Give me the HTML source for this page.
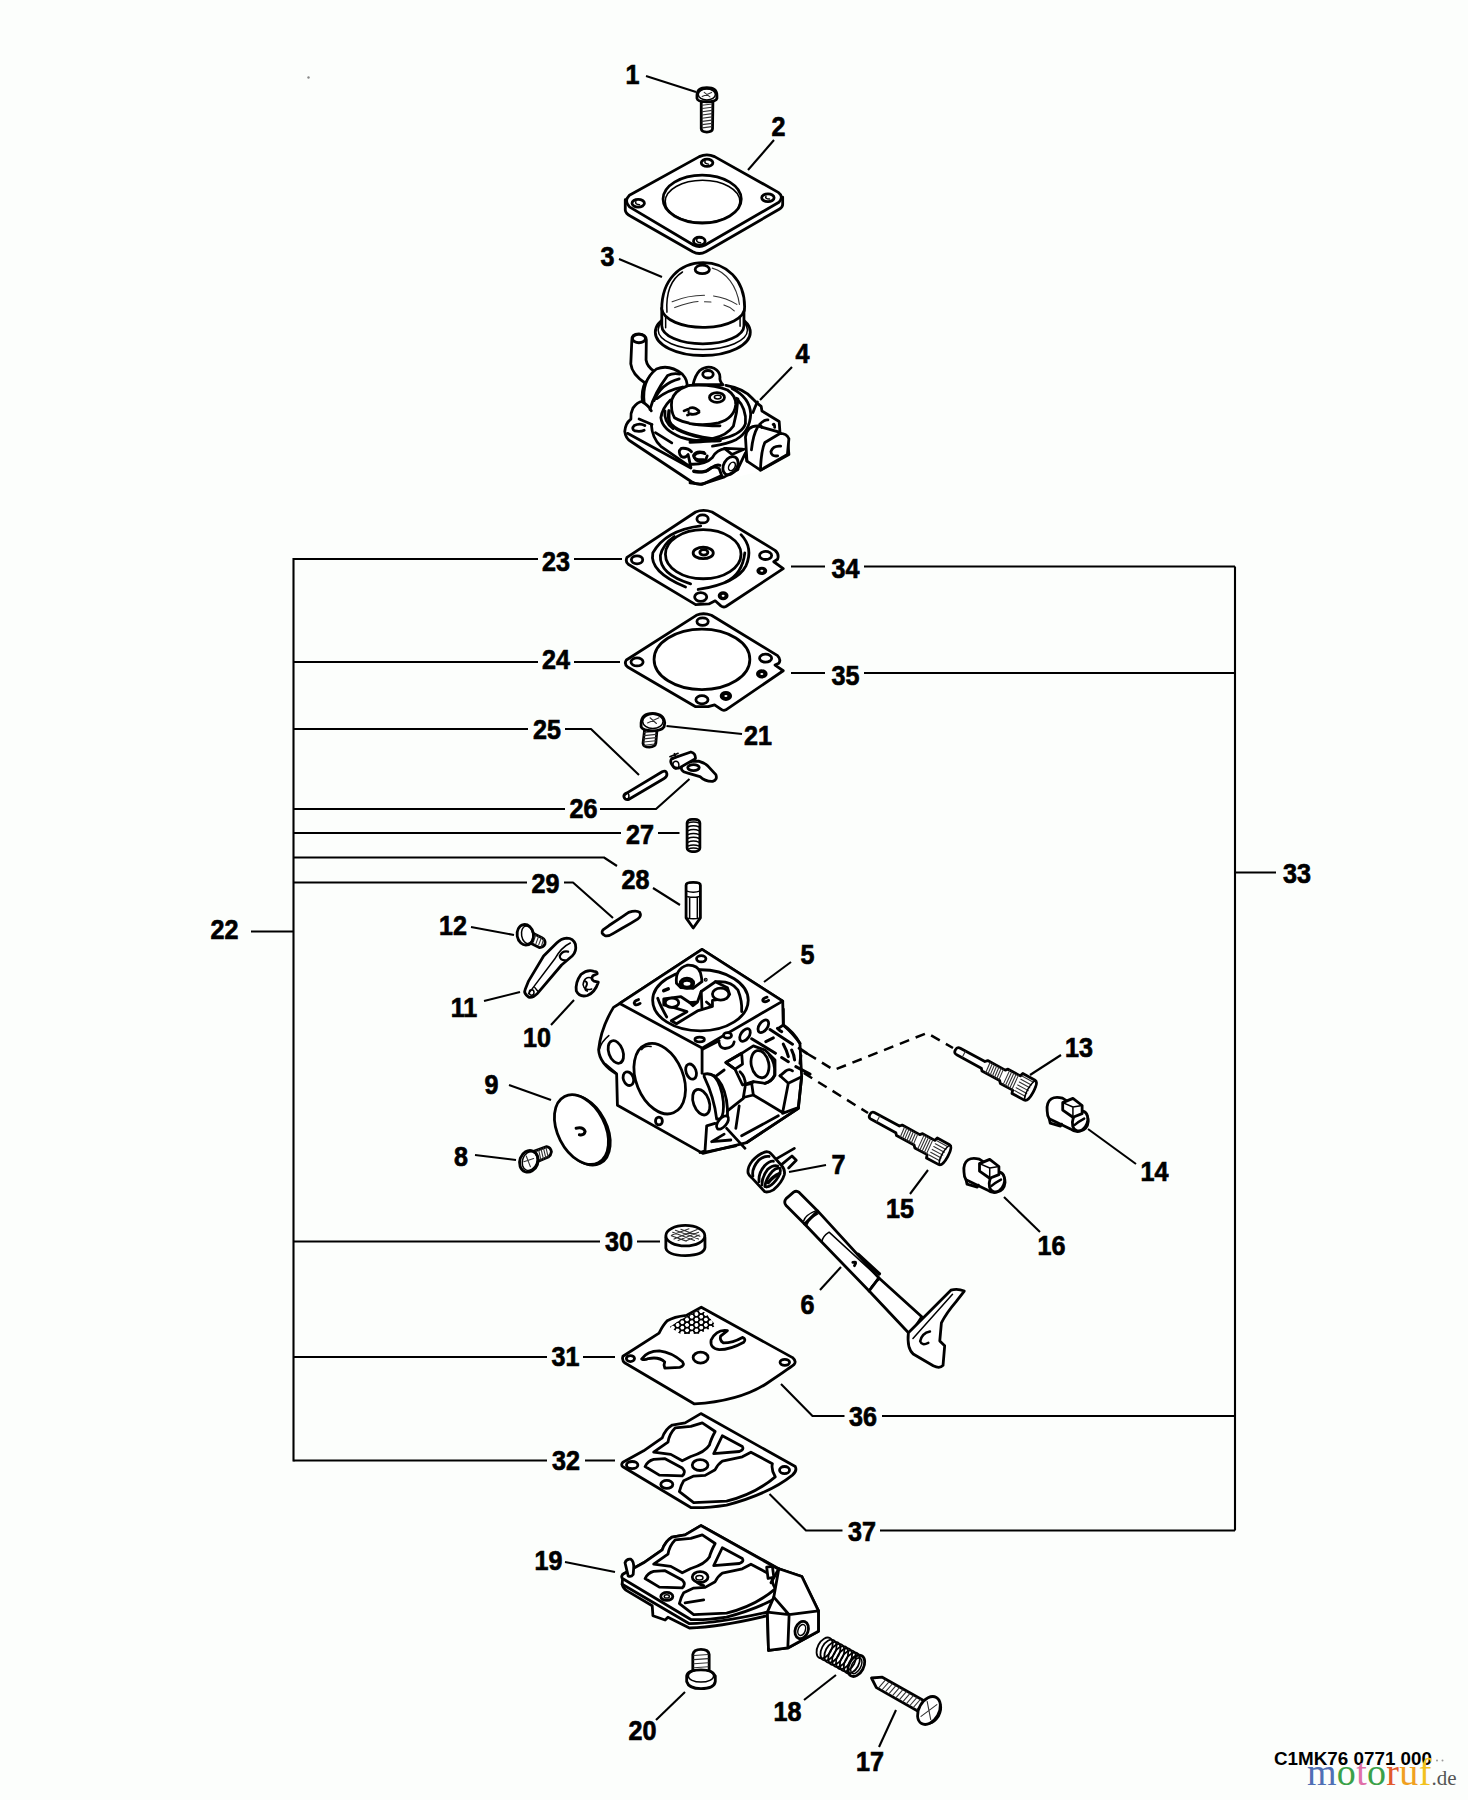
<!DOCTYPE html>
<html><head><meta charset="utf-8"><style>
html,body{margin:0;padding:0;background:#fcfefc;width:1468px;height:1800px;overflow:hidden}
svg{position:absolute;left:0;top:0}
.pt *{vector-effect:non-scaling-stroke}
</style></head><body>
<svg width="1468" height="1800" viewBox="0 0 1468 1800">
<g font-family="Liberation Sans, sans-serif" font-weight="bold" font-size="27" text-anchor="middle" fill="#000" stroke="#000" stroke-width="0.7">
<text transform="translate(632.5 84.0) scale(0.93 1)">1</text>
<text transform="translate(778.5 136.0) scale(0.93 1)">2</text>
<text transform="translate(607.5 266.0) scale(0.93 1)">3</text>
<text transform="translate(802.5 363.0) scale(0.93 1)">4</text>
<text transform="translate(556.0 571.0) scale(0.93 1)">23</text>
<text transform="translate(845.5 578.0) scale(0.93 1)">34</text>
<text transform="translate(556.0 669.0) scale(0.93 1)">24</text>
<text transform="translate(845.5 685.0) scale(0.93 1)">35</text>
<text transform="translate(758.0 745.0) scale(0.93 1)">21</text>
<text transform="translate(547.0 739.0) scale(0.93 1)">25</text>
<text transform="translate(583.5 818.0) scale(0.93 1)">26</text>
<text transform="translate(640.0 844.0) scale(0.93 1)">27</text>
<text transform="translate(635.5 889.0) scale(0.93 1)">28</text>
<text transform="translate(545.5 893.0) scale(0.93 1)">29</text>
<text transform="translate(1297.0 883.0) scale(0.93 1)">33</text>
<text transform="translate(807.5 964.0) scale(0.93 1)">5</text>
<text transform="translate(1079.0 1057.0) scale(0.93 1)">13</text>
<text transform="translate(1154.5 1181.0) scale(0.93 1)">14</text>
<text transform="translate(900.0 1218.0) scale(0.93 1)">15</text>
<text transform="translate(1051.5 1255.0) scale(0.93 1)">16</text>
<text transform="translate(838.5 1174.0) scale(0.93 1)">7</text>
<text transform="translate(807.5 1314.0) scale(0.93 1)">6</text>
<text transform="translate(619.0 1251.0) scale(0.93 1)">30</text>
<text transform="translate(565.5 1366.0) scale(0.93 1)">31</text>
<text transform="translate(566.0 1470.0) scale(0.93 1)">32</text>
<text transform="translate(863.0 1426.0) scale(0.93 1)">36</text>
<text transform="translate(862.0 1541.0) scale(0.93 1)">37</text>
<text transform="translate(548.5 1570.0) scale(0.93 1)">19</text>
<text transform="translate(642.5 1740.0) scale(0.93 1)">20</text>
<text transform="translate(787.5 1721.0) scale(0.93 1)">18</text>
<text transform="translate(870.0 1771.0) scale(0.93 1)">17</text>
<text transform="translate(453.0 935.0) scale(0.93 1)">12</text>
<text transform="translate(464.0 1017.0) scale(0.93 1)">11</text>
<text transform="translate(537.0 1047.0) scale(0.93 1)">10</text>
<text transform="translate(491.5 1094.0) scale(0.93 1)">9</text>
<text transform="translate(461.0 1166.0) scale(0.93 1)">8</text>
<text transform="translate(224.5 939.0) scale(0.93 1)">22</text>
</g>
<g fill="none" stroke="#000" stroke-width="2.1" stroke-linejoin="round" stroke-linecap="butt">
<!-- left bracket -->
<path d="M293.5 558 V1461.5"/>
<path d="M293.5 559 H538 M574 559 H622"/>
<path d="M293.5 662 H538 M574 662 H620"/>
<path d="M293.5 729 H528 M565 729 H591 L639 775"/>
<path d="M293.5 809 H565 M600 809 H656 L689.5 779"/>
<path d="M293.5 833 H621 M658 833 H679.5"/>
<path d="M293.5 857.5 H604 L617 866 M653 888 L680 905"/>
<path d="M293.5 882.5 H527 M564 882.5 H573 L613 918"/>
<path d="M251 931.5 H293.5"/>
<path d="M293.5 1241.5 H600 M637 1241.5 H660"/>
<path d="M293.5 1357 H547 M583 1357 H615"/>
<path d="M293.5 1460.5 H547 M585 1460.5 H615"/>
<!-- right bracket -->
<path d="M1235 566.5 V1530.5"/>
<path d="M791 566.5 H825 M864 566.5 H1235"/>
<path d="M791 673 H825 M864 673 H1235"/>
<path d="M1235 872.5 H1276"/>
<path d="M781 1384 L812.5 1416 H844.5 M882 1416 H1235"/>
<path d="M769.5 1494 L806 1530.5 H842.5 M880 1530.5 H1235"/>
<!-- leaders -->
<path d="M646 76 L696 92"/>
<path d="M774 140 L748 170"/>
<path d="M619 259 L662 277"/>
<path d="M792 367 L760 400"/>
<path d="M791 962 L764 982"/>
<path d="M1061 1055 L1030 1075"/>
<path d="M1088 1129 L1136 1164"/>
<path d="M928 1170 L910 1194"/>
<path d="M1004 1197 L1040 1232"/>
<path d="M789 1172 L826 1165"/>
<path d="M820 1290 L841 1267"/>
<path d="M565 1562 L615 1572"/>
<path d="M656 1720 L685 1692"/>
<path d="M804 1700 L836 1675"/>
<path d="M879 1747 L896 1710"/>
<path d="M471 927 L514 935"/>
<path d="M484 1001 L520 992"/>
<path d="M551 1025 L574 1000"/>
<path d="M509 1085 L551 1100"/>
<path d="M475 1155 L516 1160"/>
<path d="M666.5 726 L742 734"/>
<path d="M764 1027 L834 1070 L927 1033 L953 1048" stroke-dasharray="10 7" stroke-width="2.5"/>
<path d="M746 1037 L868 1113" stroke-dasharray="10 7" stroke-width="2.5"/>

</g>
<g class="pt" fill="#fff" stroke="#000" stroke-width="2.8" stroke-linejoin="round" stroke-linecap="round">
<g transform="translate(610 80) scale(0.129433)">

<path d="M705 165 L705 378 Q708 402 748 402 Q790 402 792 378 L795 165 Z"/>
<path stroke="#333" stroke-width="1.1" fill="none" d="M712 195 L788 185 M712 220 L788 210 M712 245 L788 235 M712 270 L788 260 M712 295 L788 285 M712 320 L788 310 M712 345 L788 335 M714 370 L786 360"/>
<path d="M672 120 Q672 60 748 60 Q826 60 826 120 L826 142 Q820 168 748 168 Q676 168 672 142 Z"/>
<ellipse stroke-width="1.5" fill="none" cx="748" cy="112" rx="66" ry="42"/>
<path stroke="#333" stroke-width="1.1" fill="none" d="M712 128 L785 96 M728 96 L772 130"/>
<path d="M118 925 L118 1005 Q120 1032 160 1052 L640 1327 Q690 1354 740 1327 L1310 997 Q1336 982 1334 957 L1334 905"/>
<path d="M150 890 L690 592 Q748 565 808 592 L1300 868 Q1345 900 1305 945 L735 1275 Q690 1300 645 1275 L150 980 Q105 935 150 890 Z"/>
<ellipse cx="712" cy="920" rx="302" ry="185"/>
<ellipse stroke-width="1.5" fill="none" cx="715" cy="938" rx="288" ry="163"/>
<ellipse cx="750" cy="640" rx="45" ry="28"/><path stroke-width="1.5" fill="none" d="M735 625 Q725 645 760 650"/>
<ellipse cx="218" cy="952" rx="48" ry="30"/><path stroke-width="1.5" fill="none" d="M200 940 Q190 960 228 963"/>
<ellipse cx="1220" cy="910" rx="48" ry="30"/><path stroke-width="1.5" fill="none" d="M1205 898 Q1195 918 1232 920"/>
<ellipse cx="690" cy="1245" rx="45" ry="30"/><path stroke-width="1.5" fill="none" d="M672 1230 Q660 1252 700 1258"/>

</g>
<g transform="translate(610 250) scale(0.129433)">

<ellipse cx="717" cy="635" rx="367" ry="180"/>
<ellipse stroke-width="1.5" fill="none" cx="717" cy="618" rx="345" ry="150"/>
<path d="M400 450 L400 585 A317 140 0 0 0 1035 585 L1035 450 Z"/>
<path stroke-width="1.5" fill="none" d="M430 520 L430 600 M1005 500 L1005 590"/>
<path d="M400 455 C400 230 540 98 720 98 C900 98 1040 230 1040 440 A320 150 0 0 1 400 455 Z"/>
<path stroke-width="1.5" fill="none" d="M440 480 C430 320 480 220 560 170"/>
<path stroke="#333" stroke-width="1.1" fill="none" d="M790 140 C900 170 980 280 1000 420 M480 400 Q600 350 730 350 M500 445 Q620 400 680 398 M730 400 L780 402 M800 355 Q900 370 980 420 M880 425 Q930 440 960 470"/>
<ellipse cx="713" cy="150" rx="55" ry="33"/>

</g>
<g transform="translate(615 325) scale(0.129433)">

<path stroke="none" d="M85 790 Q70 860 105 905 L640 1225 Q690 1248 745 1222 L1080 1140 L1330 1010 L1340 880 L1270 760 L1120 620 L1000 540 L760 450 L450 470 L280 600 L180 640 Q120 680 110 720 Z"/>
<path d="M130 120 Q125 70 185 68 Q240 72 242 115 L240 270 Q248 320 300 355 L235 450 Q130 380 122 300 Z"/>
<ellipse cx="185" cy="105" rx="50" ry="32"/>
<path stroke="none" d="M225 600 Q205 430 320 340 Q420 300 520 380 Q565 430 555 480 L450 600 Z"/>
<path fill="none" d="M225 600 Q205 430 320 340 Q420 300 520 380 Q565 430 555 480"/>

</g>
<g transform="translate(690 360) scale(0.074934)">
<path stroke="none" d="M480 340 Q720 380 840 520 L900 580 L950 620 L960 680 L1190 820 L1200 960 L1300 1050 L1320 1260 L940 1470 L760 1350 L640 1460 L0 1600 L0 340 Z"/>

</g>
<g transform="translate(620 370) scale(0.068120)">

<path stroke="none" d="M330 460 Q250 470 190 560 Q150 640 160 720 Q80 780 70 900 Q80 1000 160 1050 L1050 1640 Q1150 1700 1250 1660 L1468 1560 L1468 1100 L600 1000 Z"/>
<path fill="none" d="M330 460 Q250 470 190 560 Q150 640 160 720 Q80 780 70 900 Q80 1000 160 1050 L1050 1640 Q1150 1700 1250 1660 L1468 1560"/>
<path fill="none" d="M110 930 L1040 1440 M280 720 L470 800"/>
<path fill="none" d="M365 815 Q290 775 210 815 Q160 865 220 895 Q300 912 355 885"/>
<path fill="none" d="M370 180 Q310 300 330 470 Q420 520 460 600"/>
<path fill="none" d="M440 580 Q500 350 700 80 Q780 40 880 60"/>
<path fill="none" d="M500 450 Q600 200 870 130"/>
<path fill="none" d="M540 420 Q700 290 920 250"/>
<path fill="none" d="M460 800 Q470 1000 600 1120 L1000 1400"/>
<path fill="none" d="M520 920 L760 1070"/>
<path fill="none" d="M740 440 Q620 560 600 700 Q620 880 900 990 Q1100 1060 1468 1040"/>
<path fill="none" d="M660 600 Q640 760 780 860"/>
<path fill="none" stroke-width="3.5" d="M720 600 Q700 750 750 800 Q900 960 1468 1030"/>
<path stroke="none" d="M1000 230 Q800 300 760 440 Q740 600 800 700 Q1000 820 1468 820 L1468 230 Z"/>
<path fill="none" d="M1468 220 Q1100 220 1000 230 Q800 300 760 440 Q740 600 800 700 Q1000 820 1468 820"/>
<path fill="none" d="M940 600 Q1050 540 1160 600 M990 660 Q1050 640 1110 660 M1010 620 L1080 610"/>
<path fill="none" d="M1050 1200 Q1000 1140 900 1150 Q840 1200 900 1270 Q960 1300 1000 1240 L1040 1430"/>
<path fill="none" d="M1230 1210 Q1120 1180 1080 1250 Q1090 1340 1200 1350 Q1260 1340 1280 1260"/>
<path fill="none" d="M1080 1490 Q1250 1520 1350 1430 Q1420 1380 1468 1400"/>

</g>
<g transform="translate(690 360) scale(0.074934)">

<path fill="none" d="M480 340 Q720 380 840 520 L900 580 L950 620 L960 680 L1190 820 L1200 960"/>
<path d="M40 330 Q70 200 130 140 Q220 70 320 110 Q400 150 400 230 Q390 280 440 330 Z"/>
<ellipse cx="240" cy="190" rx="70" ry="50"/>
<path fill="none" d="M620 510 Q760 650 740 850 Q700 980 470 1040 Q300 1090 0 1100"/>
<path fill="none" d="M560 380 Q800 500 810 720 Q800 950 620 1060 Q500 1120 300 1150"/>
<path fill="none" d="M640 520 Q630 700 580 880 Q500 1000 300 1050 Q150 1080 0 1080"/>
<path stroke="none" d="M-5 340 Q300 320 500 400 Q620 480 610 600 Q590 780 380 840 Q200 880 -5 850 Z"/>
<path fill="none" d="M0 340 Q300 320 500 400 Q620 480 610 600 Q590 780 380 840 Q200 880 0 850"/>
<ellipse cx="360" cy="500" rx="100" ry="65"/><ellipse stroke-width="1.5" fill="none" cx="370" cy="495" rx="45" ry="25" fill="#000"/>
<path fill="none" d="M120 680 Q60 620 0 640 M120 700 Q60 740 0 720"/>
<path fill="none" d="M840 700 Q880 600 900 560"/>
<path d="M740 1030 Q760 880 900 880 L1180 960 L1300 1050 L1320 1260 L940 1470 L760 1350 Z"/>
<path d="M940 1470 L1300 1260 L1320 1050 Q1290 980 1200 980 L1000 1100 Q950 1200 940 1470 Z"/>
<path fill="none" d="M1210 1150 Q1110 1140 1080 1220 Q1080 1290 1170 1280"/>
<path fill="none" d="M820 1200 Q840 1000 900 900"/>
<path fill="none" d="M930 860 Q990 790 1040 800 M1110 860 Q1130 850 1130 900 M930 860 L960 900"/>
<path fill="none" d="M200 1250 Q100 1210 50 1280 Q60 1340 180 1330"/>
<path fill="none" d="M0 1390 Q200 1400 300 1300 Q350 1200 480 1180 L700 1190"/>
<path fill="none" d="M460 1180 L560 1260 L720 1190"/>
<ellipse cx="540" cy="1410" rx="90" ry="130" transform="rotate(30 540 1410)"/>
<ellipse stroke-width="1.5" fill="none" cx="560" cy="1420" rx="40" ry="60" transform="rotate(30 560 1420)"/>
<path fill="none" d="M50 1480 Q200 1520 250 1460 Q320 1400 390 1450 L430 1560 M640 1450 L740 1240 L760 1350"/>
<path fill="none" d="M0 1640 L150 1660 L460 1560 L640 1460"/>

</g>
<g transform="translate(615 500) scale(0.126024)">

<path d="M95 455 L640 95 Q700 70 770 95 L1270 400 Q1305 430 1290 470 L1260 490 L1335 545 L880 845 Q860 855 840 840 L795 800 L745 825 L640 830 L105 510 Q80 490 95 455 Z"/>
<ellipse cx="695" cy="150" rx="45" ry="32"/>
<ellipse cx="175" cy="475" rx="45" ry="32"/>
<ellipse cx="1195" cy="440" rx="48" ry="32"/>
<ellipse cx="1165" cy="562" rx="32" ry="22" fill="#000"/><ellipse cx="1165" cy="562" rx="12" ry="8" fill="#fff" stroke="none"/>
<ellipse cx="680" cy="770" rx="48" ry="35"/>
<ellipse cx="858" cy="760" rx="32" ry="25" fill="#000"/><ellipse cx="858" cy="760" rx="12" ry="9" fill="#fff" stroke="none"/>
<path fill="none" d="M680 205 Q400 240 300 420 Q270 570 560 690"/>
<path fill="none" d="M600 665 Q350 590 360 440 Q380 350 470 290"/>
<path fill="none" d="M1000 275 Q1100 380 1040 520 Q970 660 660 710"/>
<path fill="none" d="M880 650 Q1010 590 1030 420"/>
<ellipse cx="700" cy="430" rx="300" ry="195"/>
<ellipse cx="700" cy="420" rx="80" ry="45"/>
<ellipse cx="705" cy="415" rx="32" ry="22"/>
<path d="M90 1270 L645 915 Q700 890 765 915 L1290 1235 Q1320 1265 1300 1295 L1270 1310 L1335 1355 L880 1665 Q860 1675 840 1660 L790 1625 L740 1640 L640 1640 L100 1325 Q70 1300 90 1270 Z"/>
<ellipse cx="695" cy="965" rx="45" ry="30"/>
<ellipse cx="175" cy="1285" rx="48" ry="32"/>
<ellipse cx="1195" cy="1255" rx="48" ry="32"/>
<ellipse cx="1165" cy="1380" rx="35" ry="25" fill="#000"/><ellipse cx="1165" cy="1380" rx="12" ry="8" fill="#fff" stroke="none"/>
<ellipse cx="690" cy="1585" rx="48" ry="32"/>
<ellipse cx="880" cy="1555" rx="38" ry="28" fill="#000"/><ellipse cx="880" cy="1555" rx="12" ry="8" fill="#fff" stroke="none"/>
<ellipse cx="690" cy="1265" rx="380" ry="240"/>

</g>
<g transform="translate(590 705) scale(0.127763)">

<path d="M428 190 L415 300 Q418 330 465 330 Q510 328 515 300 L525 185 Z"/>
<path stroke="#333" stroke-width="1.1" fill="none" d="M425 215 L520 205 M423 240 L518 230 M421 265 L516 255 M419 290 L514 280 M425 315 L508 305"/>
<path d="M400 140 Q405 65 490 65 Q580 70 585 140 L580 170 Q560 202 490 202 Q410 200 400 170 Z"/>
<ellipse stroke-width="1.5" fill="none" cx="492" cy="128" rx="80" ry="55"/>
<path stroke="#333" stroke-width="1.1" fill="none" d="M450 140 L540 100 M470 100 L520 145"/>
<path d="M290 688 L565 522 Q598 508 602 540 Q604 562 580 575 L305 738 Q272 748 265 718 Q262 700 290 688 Z"/>
<ellipse stroke-width="1.5" fill="none" cx="287" cy="712" rx="18" ry="24"/>
<path d="M720 470 Q760 440 850 440 Q900 455 925 480 L985 545 Q1000 585 960 598 Q900 600 860 560 L760 532 Q700 520 720 470 Z"/>
<ellipse cx="810" cy="490" rx="45" ry="24"/>
<path d="M640 420 L790 368 Q828 378 825 420 L700 492 Q660 502 645 472 Q622 442 640 420 Z"/>
<ellipse stroke-width="1.5" fill="none" cx="672" cy="470" rx="24" ry="30"/>
<path stroke-width="1.5" fill="none" d="M625 405 L690 378 M645 425 L700 398 M660 380 L675 410"/>
<rect x="760" y="895" width="100" height="252" rx="38" ry="28"/>
<path stroke-width="1.5" fill="none" d="M765 925 Q810 905 855 925 M765 955 Q810 935 855 955 M765 985 Q810 965 855 985 M765 1015 Q810 995 855 1015 M765 1045 Q810 1025 855 1045 M765 1075 Q810 1055 855 1075 M765 1105 Q810 1085 855 1105 M765 1130 Q810 1110 855 1130"/>
<path d="M752 1410 Q752 1388 808 1388 Q864 1388 864 1410 L864 1666 L808 1745 L752 1666 Z"/>
<path stroke-width="1.5" fill="none" d="M752 1455 Q808 1475 864 1455 M765 1500 Q808 1510 851 1500 M780 1510 L780 1666 M840 1510 L840 1666 M752 1666 Q808 1680 864 1666"/>

</g>
<g transform="translate(500 895) scale(0.108992)">

<path d="M945 320 Q920 352 962 372 Q995 382 1040 352 L1120 305 Q1200 262 1262 222 Q1302 192 1282 160 Q1250 135 1180 160 L1120 200 Q1060 240 1000 280 Z"/>
<path d="M262 330 L385 392 Q422 412 412 452 Q398 484 360 482 L240 422 Z"/>
<path stroke="#333" stroke-width="1.1" fill="none" d="M280 340 L255 410 M305 352 L280 422 M330 364 L305 434 M355 376 L330 446 M380 390 L355 458 M400 405 L380 470"/>
<ellipse cx="232" cy="365" rx="75" ry="95" transform="rotate(-10 232 365)"/>
<ellipse stroke-width="1.5" fill="none" cx="250" cy="365" rx="52" ry="82" transform="rotate(-10 250 365)"/>
<path d="M230 870 Q215 905 265 938 Q300 948 342 905 L565 642 L662 560 Q705 520 692 452 Q672 395 612 395 Q560 400 520 440 L400 560 L262 790 Z"/>
<path stroke-width="1.5" fill="none" d="M262 905 L500 590 Q560 480 645 440 M320 850 L345 880"/>
<path d="M625 520 Q572 508 548 560 Q550 602 602 600" stroke-width="2.2" fill="none"/>
<ellipse stroke-width="1.5" fill="none" cx="290" cy="895" rx="22" ry="25"/>
<path d="M862 700 Q800 680 742 730 Q690 800 700 880 Q730 942 802 922 Q872 892 902 800 L862 790 Q830 770 852 742 L892 722 Q892 700 862 700 Z"/>
<path stroke-width="1.5" fill="none" d="M842 762 Q772 742 762 822 Q772 882 842 862"/>
<path d="M780 790 Q810 800 790 840 Q770 870 800 880" stroke-width="2" fill="none"/>

</g>
<g transform="translate(590 940) scale(0.156666)">

<path d="M190 405 L150 430 Q70 560 55 700 Q60 790 170 855 L175 1055 L720 1362 L1000 1293 L1330 1075 L1351 872 L1340 660 Q1300 600 1234 543 L1230 390 L715 60 Z"/>
<path d="M190 405 L715 60 L1230 390 L715 690 Z"/>

<ellipse cx="705" cy="385" rx="305" ry="195"/>
<ellipse cx="710" cy="120" rx="30" ry="20"/>
<path d="M310 380 Q275 390 285 410 Q300 420 320 405" fill="none"/>
<path d="M1130 365 Q1095 375 1105 390 Q1120 400 1140 385" fill="none"/>
<ellipse cx="700" cy="635" rx="30" ry="15"/>
<ellipse cx="445" cy="885" rx="150" ry="235" transform="rotate(-22 445 885)"/>
<path stroke-width="1.5" fill="none" d="M330 700 Q350 670 390 680"/>
<ellipse cx="165" cy="715" rx="45" ry="75" transform="rotate(-20 165 715)"/>
<ellipse cx="245" cy="885" rx="32" ry="45" transform="rotate(-20 245 885)"/>
<ellipse cx="645" cy="840" rx="32" ry="50" transform="rotate(-20 645 840)"/>
<ellipse cx="710" cy="1035" rx="50" ry="85" transform="rotate(-20 710 1035)"/>
<ellipse cx="440" cy="1155" rx="22" ry="25"/>
<path stroke-width="1.5" fill="none" d="M100 790 L170 850 M60 700 Q70 650 120 610"/>

</g>
<g transform="translate(645 960) scale(0.074934)">

<path fill="none" d="M940 290 Q1150 270 1240 400 Q1300 550 1290 690"/>
<path fill="none" d="M170 510 Q200 600 290 760"/>
<path d="M420 310 Q400 120 560 70 Q700 60 740 170 Q760 250 760 290 L640 380 L480 370 Z"/>
<ellipse cx="560" cy="310" rx="90" ry="68"/>
<ellipse cx="560" cy="318" rx="65" ry="45"/>
<path d="M250 520 L480 490 L600 570 L700 560 L750 420 L940 290 L1100 370 L1130 460 L1090 510 L900 540 L900 620 L700 680 L420 850 L350 810 L560 690 L400 640 L250 600 Z"/>
<ellipse cx="1010" cy="455" rx="110" ry="80"/>
<ellipse cx="360" cy="570" rx="90" ry="62"/>
<path fill="none" d="M750 420 L760 640 M600 570 L690 570 L640 610 Z M820 560 L880 610"/>
<path fill="none" stroke-width="3.5" d="M250 410 L310 385"/>
<circle cx="810" cy="262" r="8" fill="#000"/>

</g>
<g transform="translate(700 1010) scale(0.083333)">

<path fill="none" d="M1000 -10 L1000 180 L940 220 M1000 180 Q1120 260 1200 400"/>
<path fill="none" d="M25 470 L25 760"/>
<ellipse cx="760" cy="195" rx="50" ry="85" transform="rotate(35 760 195)"/>
<ellipse cx="540" cy="300" rx="50" ry="85" transform="rotate(35 540 300)"/>
<ellipse cx="330" cy="305" rx="48" ry="33"/>
<path fill="none" d="M230 395 Q240 462 300 462 Q400 452 410 382"/>
<path fill="none" d="M30 470 L230 370"/>
<path fill="none" stroke-width="3" d="M840 235 L1110 410 M620 345 L905 520 M790 380 L880 335 M980 570 L1060 620 M1150 680 L1320 770 M1190 460 L1280 520 M1000 410 Q1040 480 1060 560 M1100 480 Q1130 540 1135 600 M1210 545 L1200 640 M930 220 Q960 250 980 260"/>
<path d="M310 630 L500 520 L640 430 L780 480 L900 600 L900 780 Q860 860 780 880 L640 860 L600 870 L510 900 L420 710 Z"/>
<ellipse cx="720" cy="650" rx="105" ry="165" transform="rotate(-12 720 650)"/>
<path fill="none" d="M830 540 Q910 640 895 780 Q860 860 780 880"/>
<path fill="none" d="M310 630 L500 520 L510 650 L420 710 Z"/>
<path d="M50 770 Q170 740 260 900 Q340 1060 330 1300 L200 1310 Q170 1050 50 800 Z"/>
<path fill="none" d="M170 790 Q260 900 280 1100 Q290 1250 250 1300"/>
<path fill="none" d="M195 790 L290 720"/>
<path d="M480 740 Q545 800 545 900 L520 1050 L640 1020 L620 880 L545 900"/>
<path fill="none" d="M640 1020 L990 1230 M960 790 L1060 880 L1220 800 M1060 880 L990 1240 M1220 800 L1180 1170 L990 1240 M640 860 L620 880"/>
<path fill="none" d="M960 790 L1030 730 Q1070 700 1110 730"/>
<path fill="none" d="M330 1210 L520 1060 M470 1150 L430 1420 M500 1510 L940 1270 M560 1590 L1180 1180 M320 1420 L540 1660"/>
<path fill="none" d="M0 1710 L60 1690 L80 1390 L180 1360 M140 1580 L290 1490 M140 1580 L370 1560 M40 1710 L430 1630"/>
<ellipse cx="270" cy="1350" rx="50" ry="95" transform="rotate(40 270 1350)"/>

</g>
<g transform="translate(945 1035) scale(0.102176)">

<path d="M1000 745 Q990 660 1040 625 Q1080 600 1150 618 L1340 740 Q1405 782 1402 845 Q1395 925 1320 942 Q1268 952 1228 920 L1020 820 Q1000 790 1000 745 Z"/>
<path d="M1020 820 L1030 862 L1130 892 L1140 872" fill="none"/>
<ellipse cx="1322" cy="842" rx="72" ry="100" transform="rotate(20 1322 842)"/>
<path d="M1152 662 L1252 620 L1342 690 L1342 770 L1252 805 L1152 735 Z"/>
<path stroke-width="1.5" fill="none" d="M1152 662 L1252 705 L1342 690 M1252 705 L1252 805"/>
<path d="M1270 880 Q1310 845 1362 818" stroke-width="2.5" fill="none"/>

</g>
<g transform="translate(958.5 1051.5) rotate(28.5) scale(1.0 1.08)">
<path d="M0 -3.5 L28 -3.5 L30 -5.5 L50 -5.5 L52 -7.5 L66 -7.5 L67 -10.5 L81 -10.5 Q85 -10.5 85 0 Q85 10.5 81 10.5 L67 10.5 L66 7.5 L52 7.5 L50 5.5 L30 5.5 L28 3.5 L0 3.5 Q-3.5 3.5 -3.5 0 Q-3.5 -3.5 0 -3.5 Z"/>
<path stroke="#333" stroke-width="1.1" fill="none" d="M6 -3 L6 3 M33 -5 L34 5 M35.5 -5 L36.5 5 M38 -5 L39 5 M40.5 -5 L41.5 5 M43 -5 L44 5 M45.5 -5 L46.5 5 M48 -5 L49 5 M54 -7 L55 7 M56.5 -7 L57.5 7 M59 -7 L60 7 M61.5 -7 L62.5 7 M64 -7 L65 7 M68 -8 L80 -8 M68 -5 L80 -5 M68 -2 L80 -2 M68 1 L80 1 M68 4 L80 4 M68 7 L80 7"/>
<ellipse stroke-width="1.5" fill="none" cx="82" cy="0" rx="3" ry="10"/>
</g>
<g transform="translate(873 1116) rotate(28.5) scale(1.0 1.08)">
<path d="M0 -3.5 L28 -3.5 L30 -5.5 L50 -5.5 L52 -7.5 L66 -7.5 L67 -10.5 L81 -10.5 Q85 -10.5 85 0 Q85 10.5 81 10.5 L67 10.5 L66 7.5 L52 7.5 L50 5.5 L30 5.5 L28 3.5 L0 3.5 Q-3.5 3.5 -3.5 0 Q-3.5 -3.5 0 -3.5 Z"/>
<path stroke="#333" stroke-width="1.1" fill="none" d="M6 -3 L6 3 M33 -5 L34 5 M35.5 -5 L36.5 5 M38 -5 L39 5 M40.5 -5 L41.5 5 M43 -5 L44 5 M45.5 -5 L46.5 5 M48 -5 L49 5 M54 -7 L55 7 M56.5 -7 L57.5 7 M59 -7 L60 7 M61.5 -7 L62.5 7 M64 -7 L65 7 M68 -8 L80 -8 M68 -5 L80 -5 M68 -2 L80 -2 M68 1 L80 1 M68 4 L80 4 M68 7 L80 7"/>
<ellipse stroke-width="1.5" fill="none" cx="82" cy="0" rx="3" ry="10"/>
</g>
<g transform="translate(861.8 1096) scale(0.102176)">

<path d="M1000 745 Q990 660 1040 625 Q1080 600 1150 618 L1340 740 Q1405 782 1402 845 Q1395 925 1320 942 Q1268 952 1228 920 L1020 820 Q1000 790 1000 745 Z"/>
<path d="M1020 820 L1030 862 L1130 892 L1140 872" fill="none"/>
<ellipse cx="1322" cy="842" rx="72" ry="100" transform="rotate(20 1322 842)"/>
<path d="M1152 662 L1252 620 L1342 690 L1342 770 L1252 805 L1152 735 Z"/>
<path stroke-width="1.5" fill="none" d="M1152 662 L1252 705 L1342 690 M1252 705 L1252 805"/>
<path d="M1270 880 Q1310 845 1362 818" stroke-width="2.5" fill="none"/>

</g>
<g transform="translate(505 1080) scale(0.081746)">

<ellipse cx="958" cy="616" rx="287" ry="452" transform="rotate(-27 958 616)" stroke-width="3"/>
<ellipse cx="935" cy="606" rx="290" ry="455" transform="rotate(-27 935 606)"/>
<path d="M870 590 Q960 570 980 630 Q970 680 910 670" stroke-width="3" fill="none"/>
<path d="M335 880 L510 815 Q560 825 568 878 Q562 922 530 942 L365 1012 Z"/>
<path stroke="#333" stroke-width="1.1" fill="none" d="M380 860 L410 990 M410 850 L440 980 M440 840 L470 968 M470 830 L500 955 M500 822 L528 942"/>
<ellipse cx="292" cy="995" rx="112" ry="135" transform="rotate(20 292 995)"/>
<ellipse stroke-width="1.5" fill="none" cx="302" cy="992" rx="88" ry="118" transform="rotate(20 302 992)"/>
<path stroke="#333" stroke-width="1.1" fill="none" d="M230 1000 L350 960 M260 930 L310 1060"/>

</g>
<g transform="translate(740 1130) scale(0.163479)">

<path d="M395 575 L500 685 L790 985 L850 905 L475 495 Z"/>
<path d="M790 985 L1042 1252 L1112 1142 L850 905 Z"/>
<path d="M282 462 L395 575 L475 495 L362 382 Q345 368 328 380 L282 420 Q265 442 282 462 Z"/>
<path stroke-width="1.5" fill="none" d="M390 555 Q400 520 462 495 M410 578 Q420 545 478 512 M500 685 Q505 650 545 625 L850 905 M790 985 Q800 950 850 915"/>
<path d="M722 760 L852 880" stroke-width="3.5" fill="none"/>
<path d="M690 810 Q720 800 700 830" fill="none"/>
<path d="M1030 1240 L1290 980 Q1330 968 1372 985 L1322 1050 Q1262 1120 1232 1180 L1222 1290 L1252 1320 L1242 1440 Q1222 1462 1182 1442 L1062 1372 Q1020 1340 1030 1240 Z"/>
<path stroke-width="1.5" fill="none" d="M1058 1275 L1300 1005"/>
<path d="M1162 1232 Q1112 1242 1102 1292 Q1112 1322 1152 1302" stroke-width="2.5" fill="none"/>

</g>
<g transform="translate(740 1135) scale(0.047687)">

<path d="M170 800 Q150 680 260 540 Q400 380 560 350 Q620 350 660 400 L870 640 Q950 720 930 830 Q880 1000 700 1150 Q600 1210 520 1190 L250 900 Q180 840 170 800 Z"/>
<path fill="none" d="M270 860 Q240 700 400 520 Q520 430 610 450"/>
<path fill="none" d="M400 980 Q380 800 520 640 Q620 540 700 550"/>
<path fill="none" d="M460 1050 Q460 880 580 720 Q700 620 790 650"/>
<path fill="none" d="M520 1080 Q550 900 680 760 Q760 680 840 700 Q870 800 760 940 Q650 1080 560 1090"/>
<path fill="none" stroke-width="3.5" d="M590 1000 Q700 860 830 810"/>
<path fill="none" d="M760 500 L1140 280 M870 620 L1090 440 L1180 530 L1020 690"/>

</g>
<g transform="translate(610 1220) scale(0.136240)">

<path d="M410 128 L410 205 Q420 257 552 262 Q690 257 697 202 L697 128 Z"/>
<ellipse cx="553" cy="115" rx="143" ry="75"/>
<path stroke="#333" stroke-width="1.1" fill="none" d="M460 90 L620 150 M480 75 L650 140 M520 68 L660 120 M450 115 L560 155 M470 140 L640 70 M500 150 L650 90 M560 152 L655 110 M455 110 L580 65"/>
<path d="M95 1000 L360 830 Q390 770 420 740 Q470 710 560 700 L670 640 L1340 1010 Q1372 1040 1350 1062 Q1300 1100 1150 1200 Q950 1330 620 1350 L110 1050 Q85 1030 95 1000 Z"/>
<defs><clipPath id="m31"><path d="M440 785 L520 730 L655 663 L700 680 L777 776 L655 834 L520 837 Z"/></clipPath></defs><g clip-path="url(#m31)"><g transform="rotate(-30 600 750)" fill="none" stroke-width="1.4"><circle cx="320" cy="542.4" r="20"/><circle cx="360" cy="542.4" r="20"/><circle cx="400" cy="542.4" r="20"/><circle cx="440" cy="542.4" r="20"/><circle cx="480" cy="542.4" r="20"/><circle cx="520" cy="542.4" r="20"/><circle cx="560" cy="542.4" r="20"/><circle cx="600" cy="542.4" r="20"/><circle cx="640" cy="542.4" r="20"/><circle cx="680" cy="542.4" r="20"/><circle cx="720" cy="542.4" r="20"/><circle cx="760" cy="542.4" r="20"/><circle cx="800" cy="542.4" r="20"/><circle cx="840" cy="542.4" r="20"/><circle cx="880" cy="542.4" r="20"/><circle cx="920" cy="542.4" r="20"/><circle cx="340" cy="577.0" r="20"/><circle cx="380" cy="577.0" r="20"/><circle cx="420" cy="577.0" r="20"/><circle cx="460" cy="577.0" r="20"/><circle cx="500" cy="577.0" r="20"/><circle cx="540" cy="577.0" r="20"/><circle cx="580" cy="577.0" r="20"/><circle cx="620" cy="577.0" r="20"/><circle cx="660" cy="577.0" r="20"/><circle cx="700" cy="577.0" r="20"/><circle cx="740" cy="577.0" r="20"/><circle cx="780" cy="577.0" r="20"/><circle cx="820" cy="577.0" r="20"/><circle cx="860" cy="577.0" r="20"/><circle cx="900" cy="577.0" r="20"/><circle cx="940" cy="577.0" r="20"/><circle cx="320" cy="611.6" r="20"/><circle cx="360" cy="611.6" r="20"/><circle cx="400" cy="611.6" r="20"/><circle cx="440" cy="611.6" r="20"/><circle cx="480" cy="611.6" r="20"/><circle cx="520" cy="611.6" r="20"/><circle cx="560" cy="611.6" r="20"/><circle cx="600" cy="611.6" r="20"/><circle cx="640" cy="611.6" r="20"/><circle cx="680" cy="611.6" r="20"/><circle cx="720" cy="611.6" r="20"/><circle cx="760" cy="611.6" r="20"/><circle cx="800" cy="611.6" r="20"/><circle cx="840" cy="611.6" r="20"/><circle cx="880" cy="611.6" r="20"/><circle cx="920" cy="611.6" r="20"/><circle cx="340" cy="646.2" r="20"/><circle cx="380" cy="646.2" r="20"/><circle cx="420" cy="646.2" r="20"/><circle cx="460" cy="646.2" r="20"/><circle cx="500" cy="646.2" r="20"/><circle cx="540" cy="646.2" r="20"/><circle cx="580" cy="646.2" r="20"/><circle cx="620" cy="646.2" r="20"/><circle cx="660" cy="646.2" r="20"/><circle cx="700" cy="646.2" r="20"/><circle cx="740" cy="646.2" r="20"/><circle cx="780" cy="646.2" r="20"/><circle cx="820" cy="646.2" r="20"/><circle cx="860" cy="646.2" r="20"/><circle cx="900" cy="646.2" r="20"/><circle cx="940" cy="646.2" r="20"/><circle cx="320" cy="680.8" r="20"/><circle cx="360" cy="680.8" r="20"/><circle cx="400" cy="680.8" r="20"/><circle cx="440" cy="680.8" r="20"/><circle cx="480" cy="680.8" r="20"/><circle cx="520" cy="680.8" r="20"/><circle cx="560" cy="680.8" r="20"/><circle cx="600" cy="680.8" r="20"/><circle cx="640" cy="680.8" r="20"/><circle cx="680" cy="680.8" r="20"/><circle cx="720" cy="680.8" r="20"/><circle cx="760" cy="680.8" r="20"/><circle cx="800" cy="680.8" r="20"/><circle cx="840" cy="680.8" r="20"/><circle cx="880" cy="680.8" r="20"/><circle cx="920" cy="680.8" r="20"/><circle cx="340" cy="715.4" r="20"/><circle cx="380" cy="715.4" r="20"/><circle cx="420" cy="715.4" r="20"/><circle cx="460" cy="715.4" r="20"/><circle cx="500" cy="715.4" r="20"/><circle cx="540" cy="715.4" r="20"/><circle cx="580" cy="715.4" r="20"/><circle cx="620" cy="715.4" r="20"/><circle cx="660" cy="715.4" r="20"/><circle cx="700" cy="715.4" r="20"/><circle cx="740" cy="715.4" r="20"/><circle cx="780" cy="715.4" r="20"/><circle cx="820" cy="715.4" r="20"/><circle cx="860" cy="715.4" r="20"/><circle cx="900" cy="715.4" r="20"/><circle cx="940" cy="715.4" r="20"/><circle cx="320" cy="750.0" r="20"/><circle cx="360" cy="750.0" r="20"/><circle cx="400" cy="750.0" r="20"/><circle cx="440" cy="750.0" r="20"/><circle cx="480" cy="750.0" r="20"/><circle cx="520" cy="750.0" r="20"/><circle cx="560" cy="750.0" r="20"/><circle cx="600" cy="750.0" r="20"/><circle cx="640" cy="750.0" r="20"/><circle cx="680" cy="750.0" r="20"/><circle cx="720" cy="750.0" r="20"/><circle cx="760" cy="750.0" r="20"/><circle cx="800" cy="750.0" r="20"/><circle cx="840" cy="750.0" r="20"/><circle cx="880" cy="750.0" r="20"/><circle cx="920" cy="750.0" r="20"/><circle cx="340" cy="784.6" r="20"/><circle cx="380" cy="784.6" r="20"/><circle cx="420" cy="784.6" r="20"/><circle cx="460" cy="784.6" r="20"/><circle cx="500" cy="784.6" r="20"/><circle cx="540" cy="784.6" r="20"/><circle cx="580" cy="784.6" r="20"/><circle cx="620" cy="784.6" r="20"/><circle cx="660" cy="784.6" r="20"/><circle cx="700" cy="784.6" r="20"/><circle cx="740" cy="784.6" r="20"/><circle cx="780" cy="784.6" r="20"/><circle cx="820" cy="784.6" r="20"/><circle cx="860" cy="784.6" r="20"/><circle cx="900" cy="784.6" r="20"/><circle cx="940" cy="784.6" r="20"/><circle cx="320" cy="819.2" r="20"/><circle cx="360" cy="819.2" r="20"/><circle cx="400" cy="819.2" r="20"/><circle cx="440" cy="819.2" r="20"/><circle cx="480" cy="819.2" r="20"/><circle cx="520" cy="819.2" r="20"/><circle cx="560" cy="819.2" r="20"/><circle cx="600" cy="819.2" r="20"/><circle cx="640" cy="819.2" r="20"/><circle cx="680" cy="819.2" r="20"/><circle cx="720" cy="819.2" r="20"/><circle cx="760" cy="819.2" r="20"/><circle cx="800" cy="819.2" r="20"/><circle cx="840" cy="819.2" r="20"/><circle cx="880" cy="819.2" r="20"/><circle cx="920" cy="819.2" r="20"/><circle cx="340" cy="853.8" r="20"/><circle cx="380" cy="853.8" r="20"/><circle cx="420" cy="853.8" r="20"/><circle cx="460" cy="853.8" r="20"/><circle cx="500" cy="853.8" r="20"/><circle cx="540" cy="853.8" r="20"/><circle cx="580" cy="853.8" r="20"/><circle cx="620" cy="853.8" r="20"/><circle cx="660" cy="853.8" r="20"/><circle cx="700" cy="853.8" r="20"/><circle cx="740" cy="853.8" r="20"/><circle cx="780" cy="853.8" r="20"/><circle cx="820" cy="853.8" r="20"/><circle cx="860" cy="853.8" r="20"/><circle cx="900" cy="853.8" r="20"/><circle cx="940" cy="853.8" r="20"/><circle cx="320" cy="888.4" r="20"/><circle cx="360" cy="888.4" r="20"/><circle cx="400" cy="888.4" r="20"/><circle cx="440" cy="888.4" r="20"/><circle cx="480" cy="888.4" r="20"/><circle cx="520" cy="888.4" r="20"/><circle cx="560" cy="888.4" r="20"/><circle cx="600" cy="888.4" r="20"/><circle cx="640" cy="888.4" r="20"/><circle cx="680" cy="888.4" r="20"/><circle cx="720" cy="888.4" r="20"/><circle cx="760" cy="888.4" r="20"/><circle cx="800" cy="888.4" r="20"/><circle cx="840" cy="888.4" r="20"/><circle cx="880" cy="888.4" r="20"/><circle cx="920" cy="888.4" r="20"/><circle cx="340" cy="923.0" r="20"/><circle cx="380" cy="923.0" r="20"/><circle cx="420" cy="923.0" r="20"/><circle cx="460" cy="923.0" r="20"/><circle cx="500" cy="923.0" r="20"/><circle cx="540" cy="923.0" r="20"/><circle cx="580" cy="923.0" r="20"/><circle cx="620" cy="923.0" r="20"/><circle cx="660" cy="923.0" r="20"/><circle cx="700" cy="923.0" r="20"/><circle cx="740" cy="923.0" r="20"/><circle cx="780" cy="923.0" r="20"/><circle cx="820" cy="923.0" r="20"/><circle cx="860" cy="923.0" r="20"/><circle cx="900" cy="923.0" r="20"/><circle cx="940" cy="923.0" r="20"/><circle cx="320" cy="957.6" r="20"/><circle cx="360" cy="957.6" r="20"/><circle cx="400" cy="957.6" r="20"/><circle cx="440" cy="957.6" r="20"/><circle cx="480" cy="957.6" r="20"/><circle cx="520" cy="957.6" r="20"/><circle cx="560" cy="957.6" r="20"/><circle cx="600" cy="957.6" r="20"/><circle cx="640" cy="957.6" r="20"/><circle cx="680" cy="957.6" r="20"/><circle cx="720" cy="957.6" r="20"/><circle cx="760" cy="957.6" r="20"/><circle cx="800" cy="957.6" r="20"/><circle cx="840" cy="957.6" r="20"/><circle cx="880" cy="957.6" r="20"/><circle cx="920" cy="957.6" r="20"/><circle cx="340" cy="992.2" r="20"/><circle cx="380" cy="992.2" r="20"/><circle cx="420" cy="992.2" r="20"/><circle cx="460" cy="992.2" r="20"/><circle cx="500" cy="992.2" r="20"/><circle cx="540" cy="992.2" r="20"/><circle cx="580" cy="992.2" r="20"/><circle cx="620" cy="992.2" r="20"/><circle cx="660" cy="992.2" r="20"/><circle cx="700" cy="992.2" r="20"/><circle cx="740" cy="992.2" r="20"/><circle cx="780" cy="992.2" r="20"/><circle cx="820" cy="992.2" r="20"/><circle cx="860" cy="992.2" r="20"/><circle cx="900" cy="992.2" r="20"/><circle cx="940" cy="992.2" r="20"/></g></g>
<path d="M862 812 Q782 800 742 882 Q732 942 802 952 Q882 952 982 897 Q1002 872 972 862 Q902 902 832 902 Q802 882 812 852 Z"/>
<path d="M232 1020 Q272 960 362 960 Q452 970 532 1040 Q552 1070 512 1082 L402 1087 Q392 1062 402 1042 Q362 1002 282 1017 Q252 1032 232 1020 Z"/>
<ellipse cx="665" cy="1010" rx="55" ry="40"/>
<ellipse cx="150" cy="1017" rx="30" ry="22"/>
<ellipse cx="1283" cy="1045" rx="35" ry="22"/>

</g>
<g transform="translate(605 1405) scale(0.143062)">

<path d="M125 400 L270 320 L400 230 Q420 170 470 140 L560 125 L670 60 L1330 430 Q1345 460 1310 490 Q1150 620 850 700 Q700 722 600 717 L125 432 Q108 420 125 400 Z"/>
<path d="M340 330 L440 260 Q450 200 490 160 L600 150 L680 125 L770 185 Q740 240 730 280 Q700 330 600 360 L540 390 L460 345 Z"/>
<path d="M760 340 L820 215 L960 290 Q975 312 940 325 Z"/>
<path d="M280 430 Q300 390 340 380 L420 375 L540 440 Q570 470 540 495 L380 490 Z"/>
<path d="M520 605 Q530 562 550 530 L620 497 L700 492 L770 452 Q790 412 820 392 L960 362 L1020 330 L1170 410 Q1160 452 1190 502 Q1050 622 850 672 L620 682 Z"/>
<ellipse cx="665" cy="420" rx="55" ry="38"/>
<ellipse cx="190" cy="420" rx="40" ry="25"/>
<ellipse cx="432" cy="555" rx="42" ry="28"/>
<ellipse cx="1255" cy="455" rx="35" ry="25"/>

</g>
<g transform="translate(605 1517) scale(0.143062)">

<path d="M125 400 L120 470 Q125 500 160 520 L330 620 L335 690 L420 720 L440 700 L590 776 Q800 770 1135 690 L1143 933 L1278 915 L1492 799 L1492 656 L1376 416 L1215 362 L670 60 L560 125 L470 140 Q420 170 400 230 L270 320 Z"/>
<path fill="none" d="M120 470 L590 746 Q800 740 1135 665"/>
<path d="M125 400 L270 320 L400 230 Q420 170 470 140 L560 125 L670 60 L1330 430 Q1345 460 1310 490 Q1150 620 850 700 Q700 722 600 717 L125 432 Q108 420 125 400 Z"/>
<path d="M340 330 L440 260 Q450 200 490 160 L600 150 L680 125 L770 185 Q740 240 730 280 Q700 330 600 360 L540 390 L460 345 Z"/>
<path d="M760 340 L820 215 L960 290 Q975 312 940 325 Z"/>
<path d="M280 430 Q300 390 340 380 L420 375 L540 440 Q570 470 540 495 L380 490 Z"/>
<path d="M520 605 Q530 562 550 530 L620 497 L700 492 L770 452 Q790 412 820 392 L960 362 L1020 330 L1170 410 Q1160 452 1190 502 Q1050 622 850 672 L620 682 Z"/>
<path fill="none" d="M560 600 L690 580 M690 480 Q640 470 620 420"/>
<ellipse cx="665" cy="420" rx="55" ry="38"/><ellipse stroke-width="1.5" fill="none" cx="660" cy="425" rx="25" ry="16" fill="#000"/>
<ellipse cx="432" cy="555" rx="42" ry="28"/><ellipse stroke-width="1.5" fill="none" cx="432" cy="555" rx="18" ry="12"/>
<path d="M140 320 Q150 290 180 295 Q205 312 200 362 L197 402 Q182 422 162 412 Z"/>
<path d="M1130 350 L1170 345 L1180 420 L1140 430 Z"/>
<path d="M1135 665 L1143 933 L1278 915 L1492 799 L1492 656 L1376 416 L1215 362 L1180 560 Z"/>
<path fill="none" d="M1135 665 L1287 683 L1278 915 M1287 683 L1492 656 M1180 560 L1287 683 M1215 362 L1160 460"/>
<ellipse cx="1375" cy="790" rx="45" ry="62" transform="rotate(20 1375 790)"/>
<ellipse stroke-width="1.5" fill="none" cx="1375" cy="790" rx="25" ry="40" transform="rotate(20 1375 790)"/>

</g>
<g transform="translate(655 1630) scale(0.204374)">

<path d="M185 215 L185 120 Q190 95 225 95 Q262 95 265 120 L265 215 Z"/>
<path stroke="#333" stroke-width="1.1" fill="none" d="M190 125 L260 120 M190 145 L260 140 M190 165 L260 160 M190 185 L260 180 M190 205 L260 200"/>
<path d="M155 225 L155 252 Q165 287 225 287 Q290 287 295 252 L295 225 Q285 195 225 195 Q160 195 155 225 Z"/>
<ellipse stroke-width="1.5" fill="none" cx="225" cy="225" rx="62" ry="30"/>
<path stroke="none" d="M792 75 Q802 45 852 50 L992 130 Q1032 150 1022 200 Q1007 245 952 240 L812 160 Q782 130 792 75 Z"/>
<ellipse stroke-width="1.8" fill="none" cx="830" cy="88.0" rx="34" ry="55" transform="rotate(28 830 88.0)"/><ellipse stroke-width="1.8" fill="none" cx="849" cy="98.5" rx="34" ry="55" transform="rotate(28 849 98.5)"/><ellipse stroke-width="1.8" fill="none" cx="868" cy="109.0" rx="34" ry="55" transform="rotate(28 868 109.0)"/><ellipse stroke-width="1.8" fill="none" cx="887" cy="119.5" rx="34" ry="55" transform="rotate(28 887 119.5)"/><ellipse stroke-width="1.8" fill="none" cx="906" cy="130.0" rx="34" ry="55" transform="rotate(28 906 130.0)"/><ellipse stroke-width="1.8" fill="none" cx="925" cy="140.5" rx="34" ry="55" transform="rotate(28 925 140.5)"/><ellipse stroke-width="1.8" fill="none" cx="944" cy="151.0" rx="34" ry="55" transform="rotate(28 944 151.0)"/><ellipse stroke-width="1.8" fill="none" cx="963" cy="161.5" rx="34" ry="55" transform="rotate(28 963 161.5)"/>
<ellipse fill="none" cx="985" cy="175" rx="36" ry="56" transform="rotate(28 985 175)"/><ellipse fill="none" stroke-width="1.5" cx="985" cy="175" rx="22" ry="42" transform="rotate(28 985 175)"/>

</g>
<g transform="translate(871.5 1678) rotate(29.5)">
<path d="M0 0 L9 -6 L62 -6 L62 6 L9 6 Z"/>
<path stroke="#333" stroke-width="1.1" fill="none" d="M13 -5 L11 5 M17 -5 L15 5 M21 -5 L19 5 M25 -5 L23 5 M29 -5 L27 5 M33 -5 L31 5 M37 -5 L35 5 M41 -5 L39 5 M45 -5 L43 5 M49 -5 L47 5 M53 -5 L51 5 M57 -5 L55 5"/>
<path d="M62 -13 Q76 -15 77 0 Q76 15 62 13 Q57 0 62 -13 Z"/>
<ellipse cx="66" cy="0" rx="10" ry="15"/>
<path stroke="#333" stroke-width="1.1" fill="none" d="M60 -7 L72 7 M70 -9 L62 9"/>
</g>
</g>
<g font-family="Liberation Sans, sans-serif" font-weight="bold" font-size="19" fill="#000">
<text x="1274" y="1765" textLength="158" lengthAdjust="spacingAndGlyphs">C1MK76 0771 000</text>
</g>
<circle cx="308.5" cy="77.5" r="1.2" fill="#888"/>
<circle cx="1437" cy="1760.5" r="1" fill="#999"/><circle cx="1442.5" cy="1760.5" r="1" fill="#999"/>
<g font-family="Liberation Serif, serif" font-size="38">
<text x="1307" y="1785" letter-spacing="0.3"><tspan fill="#4f6fb5">m</tspan><tspan fill="#3aa148">o</tspan><tspan fill="#e070a8">t</tspan><tspan fill="#3aa148">o</tspan><tspan fill="#e25a2c">r</tspan><tspan fill="#f0a020">u</tspan><tspan fill="#f2c21c">f</tspan><tspan fill="#555" font-size="21" letter-spacing="0">.de</tspan></text>
</g>
</svg>
</body></html>
